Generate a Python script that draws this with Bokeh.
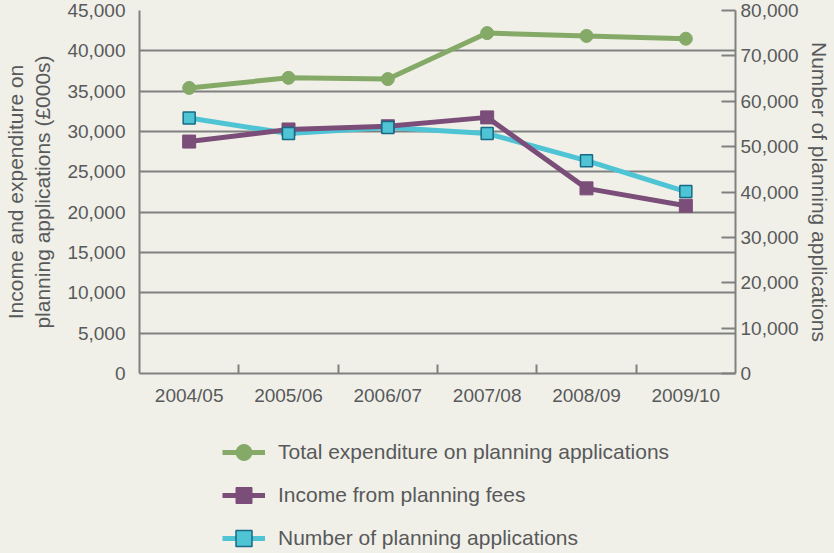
from bokeh.plotting import figure
from bokeh.layouts import column
from bokeh.models import (Range1d, LinearAxis, FixedTicker, NumeralTickFormatter,
                          Legend, LegendItem)
from bokeh.embed import file_html
from bokeh.resources import INLINE

categories = ["2004/05", "2005/06", "2006/07", "2007/08", "2008/09", "2009/10"]
expenditure = [35400, 36650, 36500, 42200, 41850, 41500]
income = [28750, 30250, 30650, 31750, 22950, 20800]
applications = [56300, 52900, 54200, 52900, 46900, 40100]
left_ticks = [0, 5000, 10000, 15000, 20000, 25000, 30000, 35000, 40000, 45000]
right_ticks = [0, 10000, 20000, 30000, 40000, 50000, 60000, 70000, 80000]
series_labels = ["Total expenditure on planning applications",
                 "Income from planning fees",
                 "Number of planning applications"]

BG = "#f0f0e8"
TXT = "#58595b"
GRID = "#808080"
GREEN = "#85aa68"
PURPLE = "#7a4e79"
CYAN = "#4fc4d4"
TEAL = "#176a86"
FONT = "Liberation Sans"

xs = [i + 0.5 for i in range(len(categories))]


def add_series(fig):
    g_line = fig.line(xs, expenditure, line_color=GREEN, line_width=5)
    g_pts = fig.scatter(xs, expenditure, marker="circle", size=13, fill_color=GREEN,
                        line_color=GREEN)
    c_line = fig.line(xs, applications, line_color=CYAN, line_width=5, y_range_name="right")
    i_line = fig.line(xs, income, line_color=PURPLE, line_width=5)
    i_pts = fig.scatter(xs, income, marker="square", size=13, fill_color=PURPLE,
                        line_color=PURPLE)
    c_pts = fig.scatter(xs, applications, marker="square", size=12, fill_color=CYAN,
                        line_color=TEAL, line_width=1.5, y_range_name="right")
    return [[g_line, g_pts], [i_line, i_pts], [c_line, c_pts]]


# ---------------- main chart ----------------
p = figure(width=834, height=420, output_backend="svg", toolbar_location=None,
           x_range=Range1d(0, len(categories)), y_range=Range1d(0, 45000),
           background_fill_color=BG, border_fill_color=BG,
           min_border_left=139, min_border_right=99, min_border_top=10,
           min_border_bottom=47)
p.outline_line_color = None
p.extra_y_ranges = {"right": Range1d(0, 80000)}

xa = p.xaxis[0]
xa.ticker = FixedTicker(ticks=xs, minor_ticks=[i for i in range(1, len(categories))])
xa.major_label_overrides = {x: c for x, c in zip(xs, categories)}
xa.major_tick_line_color = None
xa.minor_tick_in = 9
xa.minor_tick_out = 0
xa.minor_tick_line_color = GRID
xa.minor_tick_line_width = 2
xa.axis_line_color = GRID
xa.axis_line_width = 2
xa.major_label_text_font = FONT
xa.major_label_text_font_size = "19px"
xa.major_label_text_color = TXT
xa.major_label_standoff = 5

ya = p.yaxis[0]
ya.ticker = FixedTicker(ticks=left_ticks)
ya.formatter = NumeralTickFormatter(format="0,0")
ya.major_tick_line_color = None
ya.minor_tick_line_color = None
ya.axis_line_color = GRID
ya.axis_line_width = 2
ya.major_label_text_font = FONT
ya.major_label_text_font_size = "19px"
ya.major_label_text_color = TXT
ya.major_label_standoff = 8
ya.axis_label = "Income and expenditure on\nplanning applications (£000s)"
ya.axis_label_text_font = FONT
ya.axis_label_text_font_size = "21px"
ya.axis_label_text_font_style = "normal"
ya.axis_label_text_color = TXT
ya.axis_label_standoff = 10

ra = LinearAxis(y_range_name="right", ticker=FixedTicker(ticks=right_ticks),
                formatter=NumeralTickFormatter(format="0,0"))
ra.major_tick_in = 14
ra.major_tick_out = 0
ra.major_tick_line_color = GRID
ra.major_tick_line_width = 2
ra.minor_tick_line_color = None
ra.axis_line_color = GRID
ra.axis_line_width = 2
ra.major_label_text_font = FONT
ra.major_label_text_font_size = "19px"
ra.major_label_text_color = TXT
ra.major_label_standoff = 5
ra.axis_label = "Number of planning applications"
ra.axis_label_text_font = FONT
ra.axis_label_text_font_size = "21px"
ra.axis_label_text_font_style = "normal"
ra.axis_label_text_color = TXT
ra.axis_label_standoff = 6
p.add_layout(ra, "right")

p.xgrid.grid_line_color = None
p.ygrid.ticker = FixedTicker(ticks=left_ticks)
p.ygrid.grid_line_color = GRID
p.ygrid.grid_line_width = 2

add_series(p)

# ---------------- legend strip ----------------
# same series, with an x range that keeps the marks out of view: only the legend shows
lg = figure(width=834, height=133, output_backend="svg", toolbar_location=None,
            x_range=Range1d(100, 101), y_range=Range1d(0, 45000),
            background_fill_color=BG, border_fill_color=BG,
            min_border=0, outline_line_color=None)
lg.extra_y_ranges = {"right": Range1d(0, 80000)}
lg.axis.visible = False
lg.grid.visible = False
groups = add_series(lg)

legend = Legend(items=[LegendItem(label=lab, renderers=rs)
                       for lab, rs in zip(series_labels, groups)],
                location=(83, -5))
legend.background_fill_alpha = 0
legend.border_line_color = None
legend.padding = 0
legend.margin = 0
legend.glyph_width = 43
legend.glyph_height = 40
legend.label_height = 40
legend.spacing = 3
legend.label_standoff = 13
legend.label_text_font = FONT
legend.label_text_font_size = "21px"
legend.label_text_color = TXT
legend.label_text_baseline = "middle"
lg.add_layout(legend, "center")

layout = column(p, lg, spacing=0, background=BG)
html = file_html(layout, INLINE)
html = html.replace("</head>", "<style>html, body {background:#f0f0e8;}</style></head>", 1)
open("out.html", "w").write(html)
